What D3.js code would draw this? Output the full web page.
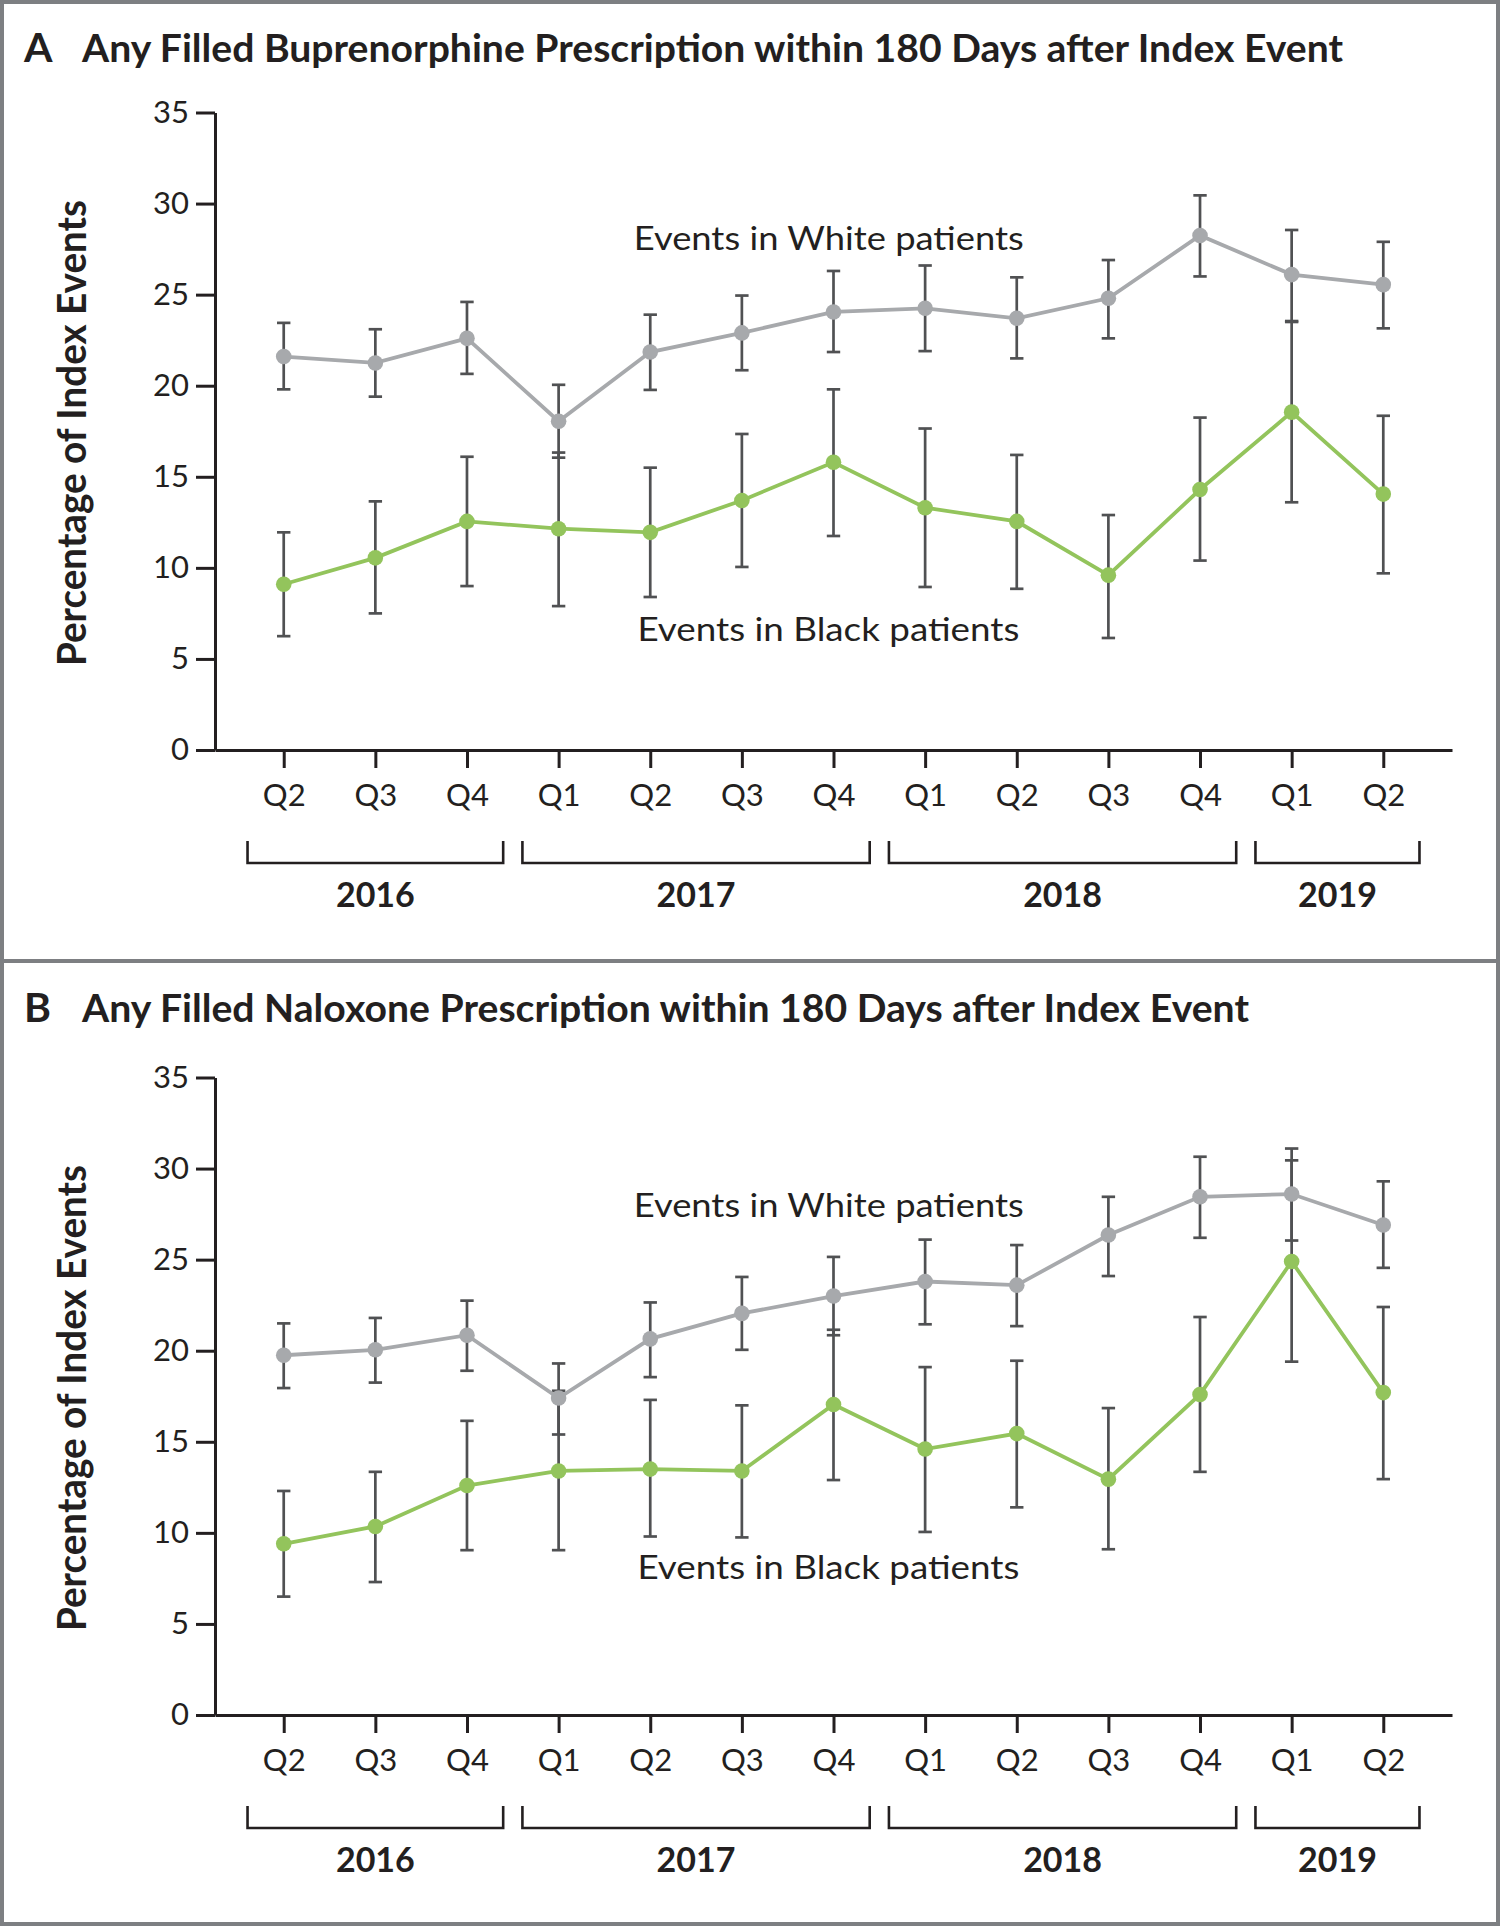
<!doctype html>
<html lang="en">
<head>
<meta charset="utf-8">
<title>Filled buprenorphine and naloxone prescriptions</title>
<script src="https://cdn.jsdelivr.net/npm/d3@7"></script>
<style>
  body { margin: 0; background: #fff; }
  svg text { font-family: Lato, "Open Sans", sans-serif; fill: #231f20; }
</style>
</head>
<body>
<svg id="chart"></svg>
<script>
// quarter tick labels and the year groups under them
var quarters = ["Q2","Q3","Q4","Q1","Q2","Q3","Q4","Q1","Q2","Q3","Q4","Q1","Q2"];
var yearLabels = ["2016","2017","2018","2019"];
var yearFirst = [0, 3, 7, 11];
var yearLast  = [2, 6, 10, 12];
var yTicks = [0, 5, 10, 15, 20, 25, 30, 35];

// A: buprenorphine, percentages with 95% CI
var bupWhite   = [21.6, 21.25, 22.6, 18.05, 21.85, 22.9, 24.05, 24.25, 23.7, 24.8, 28.25, 26.1, 25.55];
var bupWhiteLo = [19.8, 19.4, 20.65, 16.05, 19.77, 20.85, 21.85, 21.9, 21.5, 22.6, 26.0, 23.55, 23.15];
var bupWhiteHi = [23.45, 23.1, 24.6, 20.05, 23.9, 24.95, 26.3, 26.6, 25.95, 26.9, 30.45, 28.55, 27.9];
var bupBlack   = [9.1, 10.55, 12.55, 12.15, 11.95, 13.7, 15.8, 13.3, 12.55, 9.6, 14.3, 18.55, 14.05];
var bupBlackLo = [6.25, 7.5, 9.0, 7.9, 8.4, 10.05, 11.75, 8.95, 8.85, 6.15, 10.4, 13.6, 9.7];
var bupBlackHi = [11.95, 13.65, 16.1, 16.33, 15.5, 17.35, 19.8, 17.65, 16.2, 12.9, 18.25, 23.5, 18.35];

// B: naloxone
var nalWhite   = [19.75, 20.05, 20.85, 17.4, 20.65, 22.05, 23.0, 23.8, 23.6, 26.35, 28.45, 28.6, 26.9];
var nalWhiteLo = [17.95, 18.25, 18.9, 15.4, 18.55, 20.05, 20.85, 21.45, 21.35, 24.1, 26.2, 26.05, 24.55];
var nalWhiteHi = [21.5, 21.8, 22.75, 19.3, 22.65, 24.05, 25.15, 26.1, 25.8, 28.45, 30.65, 31.1, 29.3];
var nalBlack   = [9.4, 10.35, 12.6, 13.4, 13.5, 13.4, 17.05, 14.6, 15.45, 12.95, 17.6, 24.9, 17.7];
var nalBlackLo = [6.5, 7.3, 9.05, 9.05, 9.8, 9.75, 12.9, 10.05, 11.4, 9.1, 13.35, 19.4, 12.95];
var nalBlackHi = [12.3, 13.35, 16.15, 17.8, 17.3, 17.0, 21.15, 19.1, 19.45, 16.85, 21.85, 30.45, 22.4];

var panels = [
  {letter: "A", title: "Any Filled Buprenorphine Prescription within 180 Days after Index Event",
   titleWidth: 1261, offset: 0, titleY: 62, whiteAt: 27.46, blackAt: 5.99,
   white: bupWhite, whiteLo: bupWhiteLo, whiteHi: bupWhiteHi,
   black: bupBlack, blackLo: bupBlackLo, blackHi: bupBlackHi},
  {letter: "B", title: "Any Filled Naloxone Prescription within 180 Days after Index Event",
   titleWidth: 1167, offset: 965, titleY: 57, whiteAt: 27.36, blackAt: 7.45,
   white: nalWhite, whiteLo: nalWhiteLo, whiteHi: nalWhiteHi,
   black: nalBlack, blackLo: nalBlackLo, blackHi: nalBlackHi}
];

var ink = "#231f20", grey = "#a7a9ac", green = "#93c45c", barColor = "#505153";

var svg = d3.select("#chart").attr("width", 1500).attr("height", 1926);

// frame
svg.append("rect").attr("x", 2).attr("y", 2).attr("width", 1496).attr("height", 1922)
  .attr("fill", "none").attr("stroke", "#7d7f82").attr("stroke-width", 4);
svg.append("line").attr("x1", 2).attr("x2", 1498).attr("y1", 961).attr("y2", 961)
  .attr("stroke", "#7d7f82").attr("stroke-width", 4);

var x = d3.scaleLinear().domain([-0.75, 12.75]).range([215, 1452]);
var step = x(1) - x(0);
var y = d3.scaleLinear().domain([0, 35]).range([750, 112.5]);

function styleAxis(sel) {
  sel.attr("font-family", null).attr("font-size", 31);
  sel.selectAll("path, line").attr("stroke", ink).attr("stroke-width", 3);
  sel.selectAll("text").attr("fill", ink);
}

function drawSeries(g, vals, lo, hi, color) {
  var idx = d3.range(vals.length);
  var bars = g.append("g").selectAll("g").data(idx).enter().append("g")
    .attr("stroke", barColor).attr("stroke-width", 2.7);
  bars.append("line")
    .attr("x1", function(i){ return x(i); }).attr("x2", function(i){ return x(i); })
    .attr("y1", function(i){ return y(lo[i]); }).attr("y2", function(i){ return y(hi[i]); });
  bars.append("line")
    .attr("x1", function(i){ return x(i) - 6.7; }).attr("x2", function(i){ return x(i) + 6.7; })
    .attr("y1", function(i){ return y(lo[i]); }).attr("y2", function(i){ return y(lo[i]); });
  bars.append("line")
    .attr("x1", function(i){ return x(i) - 6.7; }).attr("x2", function(i){ return x(i) + 6.7; })
    .attr("y1", function(i){ return y(hi[i]); }).attr("y2", function(i){ return y(hi[i]); });
  return function() {
    g.append("path").datum(idx)
      .attr("fill", "none").attr("stroke", color).attr("stroke-width", 3.8)
      .attr("d", d3.line().x(function(i){ return x(i); }).y(function(i){ return y(vals[i]); }));
    g.selectAll(null).data(idx).enter().append("circle")
      .attr("cx", function(i){ return x(i); }).attr("cy", function(i){ return y(vals[i]); })
      .attr("r", 7.8).attr("fill", color);
  };
}

panels.forEach(function(p) {
  var g = svg.append("g").attr("transform", "translate(0," + p.offset + ")");

  g.append("text").attr("x", 24).attr("y", p.titleY)
    .attr("font-size", 41).attr("font-weight", 700).text(p.letter);
  g.append("text").attr("x", 82).attr("y", p.titleY)
    .attr("font-size", 39).attr("font-weight", 700)
    .attr("textLength", p.titleWidth).attr("lengthAdjust", "spacingAndGlyphs")
    .text(p.title);

  g.append("text")
    .attr("transform", "translate(86," + y(17.4) + ") rotate(-90)")
    .attr("text-anchor", "middle").attr("font-size", 40).attr("font-weight", 700)
    .attr("textLength", 466).attr("lengthAdjust", "spacingAndGlyphs")
    .text("Percentage of Index Events");

  g.append("g").attr("transform", "translate(215,0)")
    .call(d3.axisLeft(y).tickValues(yTicks).tickSize(19).tickPadding(7).tickSizeOuter(0))
    .call(styleAxis);

  var xg = g.append("g").attr("transform", "translate(0," + y(0) + ")")
    .call(d3.axisBottom(x).tickValues(d3.range(quarters.length))
      .tickFormat(function(i){ return quarters[i]; }).tickSize(18).tickSizeOuter(0))
    .call(styleAxis);
  xg.selectAll("text").attr("y", 56).attr("dy", 0);

  // year brackets
  var yr = g.append("g").selectAll("g").data(d3.range(yearLabels.length)).enter().append("g");
  yr.append("path")
    .attr("fill", "none").attr("stroke", ink).attr("stroke-width", 2.6)
    .attr("d", function(k) {
      var x1 = x(yearFirst[k]) - 0.395 * step, x2 = x(yearLast[k]) + 0.395 * step;
      return "M" + x1 + "," + (y(0) + 91) + "V" + (y(0) + 113) + "H" + x2 + "V" + (y(0) + 91);
    });
  yr.append("text")
    .attr("x", function(k){ return (x(yearFirst[k]) + x(yearLast[k])) / 2; })
    .attr("y", y(0) + 157).attr("text-anchor", "middle")
    .attr("font-size", 34).attr("font-weight", 700)
    .text(function(k){ return yearLabels[k]; });

  var plot = g.append("g");
  var drawWhite = drawSeries(plot, p.white, p.whiteLo, p.whiteHi, grey);
  var drawBlack = drawSeries(plot, p.black, p.blackLo, p.blackHi, green);
  drawWhite();
  drawBlack();

  g.append("text").attr("x", x(3.82)).attr("y", y(p.whiteAt))
    .attr("font-size", 33).attr("textLength", 390).attr("lengthAdjust", "spacingAndGlyphs")
    .text("Events in White patients");
  g.append("text").attr("x", x(3.86)).attr("y", y(p.blackAt))
    .attr("font-size", 33).attr("textLength", 382).attr("lengthAdjust", "spacingAndGlyphs")
    .text("Events in Black patients");
});
</script>
</body>
</html>
